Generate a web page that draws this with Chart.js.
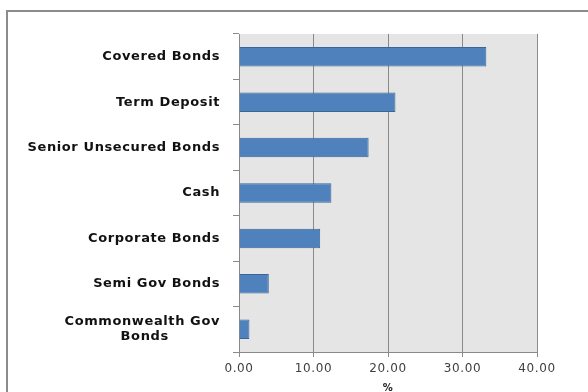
<!DOCTYPE html>
<html>
<head>
<meta charset="utf-8">
<script src="https://cdn.jsdelivr.net/npm/chart.js@4/dist/chart.umd.min.js"></script>
<style>
  html, body { margin: 0; padding: 0; background: #fff; }
  #wrap { width: 588px; height: 392px; }
</style>
</head>
<body>
<div id="wrap"><canvas id="holdingsChart"></canvas></div>
<script>
const categories = [
  'Covered Bonds',
  'Term Deposit',
  'Senior Unsecured Bonds',
  'Cash',
  'Corporate Bonds',
  'Semi Gov Bonds',
  ['Commonwealth Gov', 'Bonds']
];
const values = [33.2, 21.0, 17.4, 12.4, 10.9, 4.0, 1.4];
const xTickValues = [0, 10, 20, 30, 40];

const tracking = '0.6px';

// centre the shorter line of a wrapped label under the longer one
const measure = document.createElement('canvas').getContext('2d');
measure.font = 'bold 13px "DejaVu Sans"';
measure.letterSpacing = tracking;
function centreLines(lines) {
  if (!Array.isArray(lines)) return lines;
  const widths = lines.map(l => measure.measureText(l).width);
  const max = Math.max(...widths);
  const space = measure.measureText(' ').width;
  return lines.map((l, i) => l + ' '.repeat(Math.round((max - widths[i]) / 2 / space)));
}

const frame = {
  id: 'frame',
  beforeDraw(chart) {
    const { ctx, chartArea: a } = chart;
    ctx.letterSpacing = tracking; // Excel-style wide text
    ctx.save();
    ctx.fillStyle = '#e5e5e5';
    ctx.fillRect(a.left, a.top, a.right - a.left, a.bottom - a.top);
    ctx.restore();
  },
  afterDraw(chart) {
    const ctx = chart.ctx;
    ctx.save();
    ctx.strokeStyle = '#8c8c8c';
    ctx.lineWidth = 2;
    ctx.beginPath();
    ctx.moveTo(7, 400);
    ctx.lineTo(7, 11);
    ctx.lineTo(600, 11);
    ctx.stroke();
    ctx.restore();
  }
};

new Chart(document.getElementById('holdingsChart'), {
  type: 'bar',
  data: {
    labels: categories,
    datasets: [{
      data: values,
      backgroundColor: '#4f81bd',
      borderColor: '#3a6696',
      borderWidth: 1,
      barPercentage: 0.43,
      categoryPercentage: 1
    }]
  },
  options: {
    indexAxis: 'y',
    responsive: true,
    maintainAspectRatio: false,
    animation: false,
    layout: { padding: { top: 34, right: 51, left: 0, bottom: 0 } },
    plugins: {
      legend: { display: false },
      tooltip: { enabled: false }
    },
    scales: {
      x: {
        min: 0,
        max: 40,
        afterBuildTicks: s => { s.ticks = xTickValues.map(v => ({ value: v })); },
        afterFit: s => { s.height = 40; },
        grid: { color: '#8a8a8a', lineWidth: 1, tickLength: 5 },
        border: { color: '#8a8a8a' },
        ticks: {
          color: '#404040',
          font: { family: 'DejaVu Sans', size: 12 },
          padding: 5,
          callback: v => Number(v).toFixed(2)
        },
        title: {
          display: true,
          text: '%',
          color: '#222',
          font: { family: 'DejaVu Sans', size: 10, weight: 'bold' },
          padding: { top: 0, bottom: -2 }
        }
      },
      y: {
        afterFit: s => { s.width = 239; },
        grid: { drawOnChartArea: false, offset: true, tickLength: 6, color: '#8a8a8a' },
        border: { color: '#8a8a8a' },
        ticks: {
          color: '#111',
          font: { family: 'DejaVu Sans', size: 13, weight: 'bold' },
          padding: 13,
          callback: function (v) { return centreLines(this.getLabelForValue(v)); }
        }
      }
    }
  },
  plugins: [frame]
});
</script>
</body>
</html>
